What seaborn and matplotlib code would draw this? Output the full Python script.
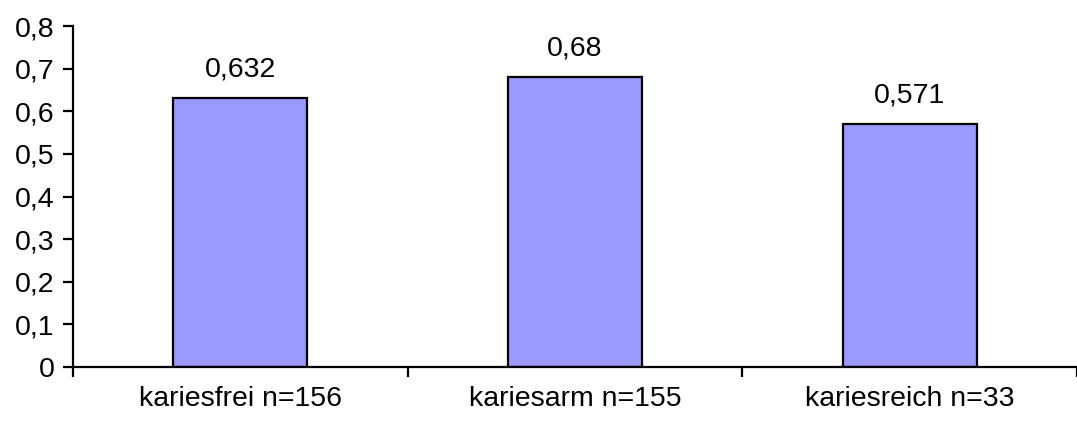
import matplotlib
matplotlib.use("Agg")
import matplotlib.pyplot as plt
import seaborn as sns
import pandas as pd

categories = ["kariesfrei n=156", "kariesarm n=155", "kariesreich n=33"]
values = [0.632, 0.68, 0.571]
value_labels = ["0,632", "0,68", "0,571"]
y_ticks = [0, 0.1, 0.2, 0.3, 0.4, 0.5, 0.6, 0.7, 0.8]
y_tick_labels = ["0", "0,1", "0,2", "0,3", "0,4", "0,5", "0,6", "0,7", "0,8"]

sns.set_style("white")
plt.rcParams["font.family"] = ["Liberation Sans", "DejaVu Sans"]
plt.rcParams["text.color"] = "black"
plt.rcParams["xtick.color"] = "black"
plt.rcParams["ytick.color"] = "black"
plt.rcParams["xtick.labelcolor"] = "black"
plt.rcParams["ytick.labelcolor"] = "black"
FS = 20.5

fig = plt.figure(figsize=(10.77, 4.21), dpi=100)
ax = fig.add_axes([73 / 1077, 1 - 367 / 421, 1 - 73 / 1077, (367 - 26) / 421])

df = pd.DataFrame({"cat": categories, "val": values})
sns.barplot(data=df, x="cat", y="val", color="#9999FF", saturation=1,
            width=0.4, edgecolor="black", linewidth=1.6, ax=ax)

for i, (v, lab) in enumerate(zip(values, value_labels)):
    ax.annotate(lab, (i, v), xytext=(0, 11), textcoords="offset points",
                ha="center", va="bottom", fontsize=FS, color="black")

ax.set_ylim(0, 0.8)
ax.set_xlim(-0.5, 2.5 - 9 / 338)
ax.set_yticks(y_ticks)
ax.set_yticklabels(y_tick_labels, fontsize=FS)

# category boundaries carry tick marks; labels sit at bar centres
ax.set_xticks([-0.5, 0.5, 1.5, 2.5])
ax.set_xticklabels([])
ax.set_xticks([0, 1, 2], minor=True)
ax.set_xticklabels(categories, minor=True, fontsize=FS)
ax.tick_params(axis="x", which="major", direction="out", length=7.5, width=1.6, color="black", bottom=True)
ax.tick_params(axis="x", which="minor", length=0, pad=14, labelcolor="black")
ax.tick_params(axis="y", direction="out", length=7.5, width=1.6, color="black", left=True, pad=6, labelcolor="black")

ax.set_xlabel("")
ax.set_ylabel("")
for s in ["top", "right"]:
    ax.spines[s].set_visible(False)
for s in ["left", "bottom"]:
    ax.spines[s].set_color("black")
    ax.spines[s].set_linewidth(1.6)

fig.savefig("out.png", dpi=100)
